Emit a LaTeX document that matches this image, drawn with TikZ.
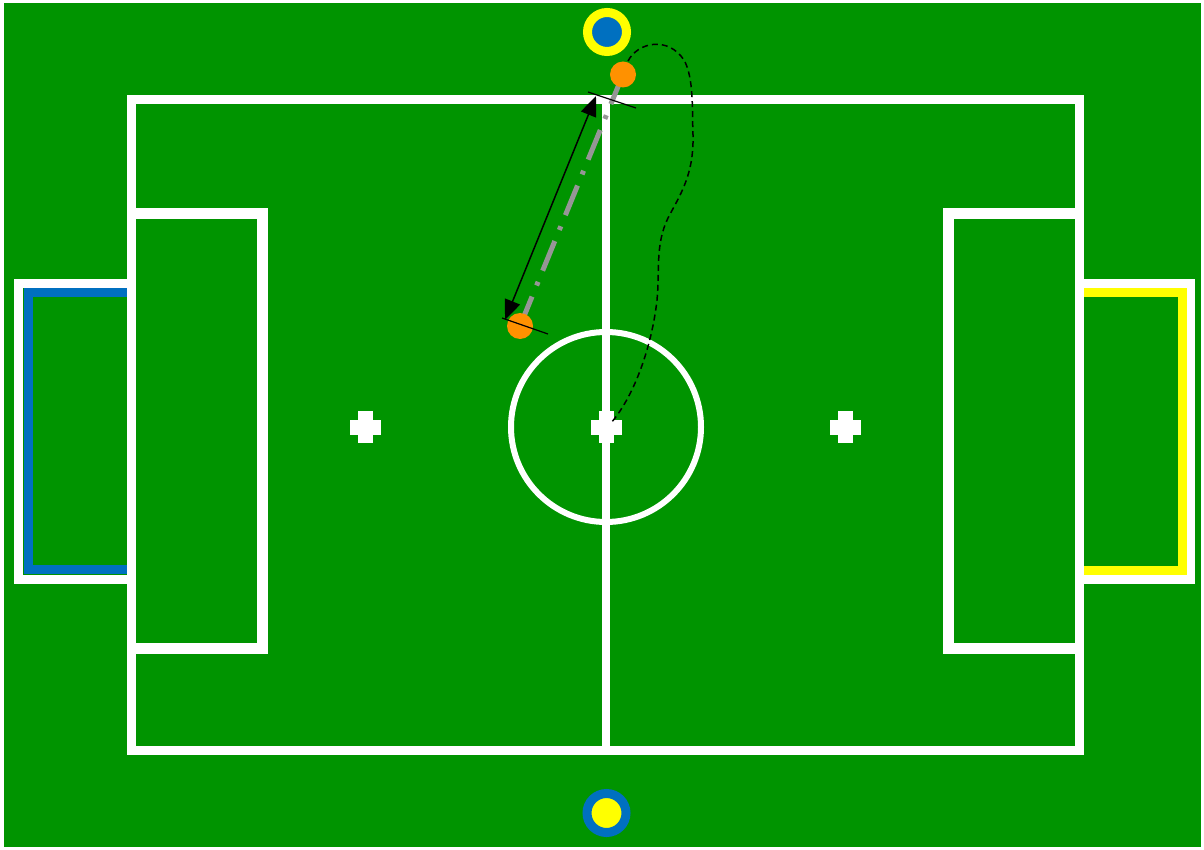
\documentclass[tikz,border=0pt]{standalone}
\usetikzlibrary{arrows.meta}
\definecolor{pitch}{RGB}{0,148,0}
\definecolor{goalblue}{RGB}{0,112,192}
\definecolor{goalyellow}{RGB}{255,255,0}
\definecolor{ballorange}{RGB}{255,145,0}
\definecolor{pathgray}{RGB}{150,150,150}
\begin{document}
\begin{tikzpicture}[x=1pt,y=-1pt,
  fieldline/.style={white,line width=9pt},
  boxline/.style={white,line width=11pt},
  goalline/.style={line width=9pt},
  marker/.style={circle,inner sep=0pt,minimum size=39pt,line width=9pt},
  ball/.style={circle,fill=ballorange,inner sep=0pt,minimum size=26pt},
  tick/.style={black,line width=1.2pt},
  spotcross/.style={white}]
\useasboundingbox (0,0) rectangle (1204,850);
\fill[white] (0,0) rectangle (1204,850);
\fill[pitch] (4,3) rectangle (1201,847);
% goals
\draw[fieldline] (131,283.5) -- (18,283.5) -- (18,579.5) -- (131,579.5);
\draw[goalline,goalblue] (131,292.5) -- (28,292.5) -- (28,569.5) -- (131,569.5);
\draw[fieldline] (1079,283.5) -- (1190.5,283.5) -- (1190.5,579.5) -- (1079,579.5);
\draw[goalline,goalyellow] (1079,292.5) -- (1182.5,292.5) -- (1182.5,570.5) -- (1075,570.5);
% field
\draw[fieldline] (131,99.5) rectangle (1079,750.5);
\draw[boxline] (131,214) -- (262,214) -- (262,648) -- (131,648);
\draw[boxline] (1079,214) -- (948,214) -- (948,648) -- (1079,648);
\draw[white,line width=8pt] (606,99.5) -- (606,750.5);
\draw[white,line width=6pt] (606,427) circle[radius=95];
% spots
\foreach \cx in {365.5,606,845}{
  \fill[spotcross] (\cx-15.5,419.5) rectangle (\cx+15.5,434.5);
  \fill[spotcross] (\cx-7.5,411) rectangle (\cx+7.5,443);
}
% markers
\node[marker,fill=goalblue,draw=goalyellow] (mtop) at (607,32) {};
\node[marker,fill=goalyellow,draw=goalblue] (mbot) at (606.5,813) {};
% ball path
\coordinate (b1) at (623,74.5);
\coordinate (b2) at (520,326);
\draw[pathgray,line width=5pt,dash pattern=on 32pt off 12pt on 4pt off 12pt] (b1) -- (b2);
\node[ball] (ballA) at (b1) {};
\node[ball] (ballB) at (b2) {};
% ticks
\coordinate (t1a) at (588,92);
\coordinate (t1b) at (636,108);
\coordinate (t2a) at (502,318);
\coordinate (t2b) at (548,334);
\draw[tick] (t1a) -- (t1b);
\draw[tick] (t2a) -- (t2b);
\coordinate (a1) at (596,96);
\coordinate (a2) at (505,320);
\draw[black,line width=1.5pt,{Triangle[length=20pt,width=16pt]}-{Triangle[length=20pt,width=16pt]}] (a1) -- (a2);
% dribble path
\coordinate (c0) at (628,61);
\coordinate (c1) at (611,423);
\draw[black,line width=1.5pt,dash pattern=on 6pt off 4pt] (c0) .. controls (638,42) and (668,36) .. (684,60)
  .. controls (694,78) and (692,110) .. (693,135)
  .. controls (694,175) and (680,195) .. (668,218)
  .. controls (655,245) and (660,270) .. (657,300)
  .. controls (652,345) and (635,395) .. (c1);
\end{tikzpicture}
\end{document}
